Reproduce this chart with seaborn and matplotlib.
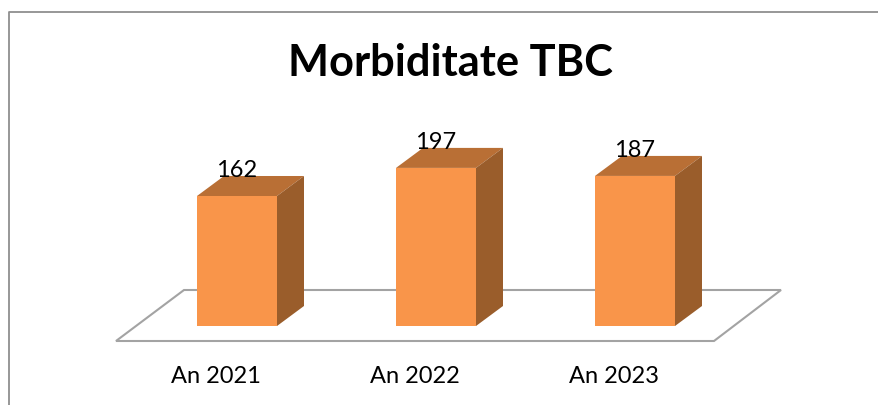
import numpy as np
import pandas as pd
import seaborn as sns
from matplotlib import pyplot as plt
from matplotlib.lines import Line2D
from matplotlib.patches import Polygon
from matplotlib.transforms import ScaledTranslation

years = ['An 2021', 'An 2022', 'An 2023']
cases = [162, 197, 187]

W, H = 879, 405
PX_PER_CASE = 0.8025
PX_PER_CAT = 199.0
BASE_Y = 326     # pixel row of the bar bottoms

sns.set_theme(style='white')
plt.rcParams['font.family'] = ['Lato', 'DejaVu Sans']

fig = plt.figure(figsize=(W / 100, H / 100), dpi=100, facecolor='white')
ax = fig.add_axes([0, 1 - BASE_Y / H, 1, BASE_Y / H])
ax.patch.set_alpha(0)

df = pd.DataFrame({'year': years, 'cases': cases})
sns.barplot(data=df, x='year', y='cases', color='#F9954A', saturation=1,
            width=0.402, ax=ax, zorder=3)

ax.set_xlim(-237 / PX_PER_CAT, (W - 237) / PX_PER_CAT)
ax.set_ylim(0, BASE_Y / PX_PER_CASE)
sns.despine(ax=ax, left=True, bottom=True, top=True, right=True)
ax.set_xlabel('')
ax.set_ylabel('')
ax.set_yticks([])
ax.tick_params(axis='x', length=0, pad=29, labelsize=17, labelcolor='black')

# category labels sit left of the columns, they follow the floor not the bars
shift = ScaledTranslation(-21 / 100, 0, fig.dpi_scale_trans)
for lab in ax.get_xticklabels():
    lab.set_transform(lab.get_transform() + shift)

# 3d look: depth of the columns, in data units
dx = 27 / PX_PER_CAT
dy = 20 / PX_PER_CASE

# floor
low = -15 / PX_PER_CASE
high = 36 / PX_PER_CASE
floor = Polygon([(-121 / PX_PER_CAT, low), (-53 / PX_PER_CAT, high),
                 (544 / PX_PER_CAT, high), (477 / PX_PER_CAT, low)],
                closed=True, facecolor='white', edgecolor='#A3A3A3', lw=1.5,
                clip_on=False, zorder=1)
ax.add_patch(floor)

for bar in ax.containers[0]:
    x0, x1 = bar.get_x(), bar.get_x() + bar.get_width()
    top = bar.get_height()
    bar.set_edgecolor('none')
    ax.add_patch(Polygon([(x0, top), (x1, top), (x1 + dx, top + dy), (x0 + dx, top + dy)],
                         closed=True, facecolor='#B96F35', edgecolor='none', zorder=3))
    ax.add_patch(Polygon([(x1, 0), (x1 + dx, dy), (x1 + dx, top + dy), (x1, top)],
                         closed=True, facecolor='#9A5D2B', edgecolor='none', zorder=3))

ax.bar_label(ax.containers[0], padding=11, fontsize=17, color='black', zorder=5)

ax.set_title('Morbiditate TBC', fontsize=31.2, fontweight='bold', color='black',
             x=450 / W, y=1 - 84 / BASE_Y, va='baseline')

# chart frame, only the left and top edges are visible in the crop
fig.add_artist(Line2D([8.5 / W, 8.5 / W, 1], [0, 1 - 12 / H, 1 - 12 / H],
                      color='#8F8F8F', lw=1.3))

fig.savefig('out.png', dpi=100)
